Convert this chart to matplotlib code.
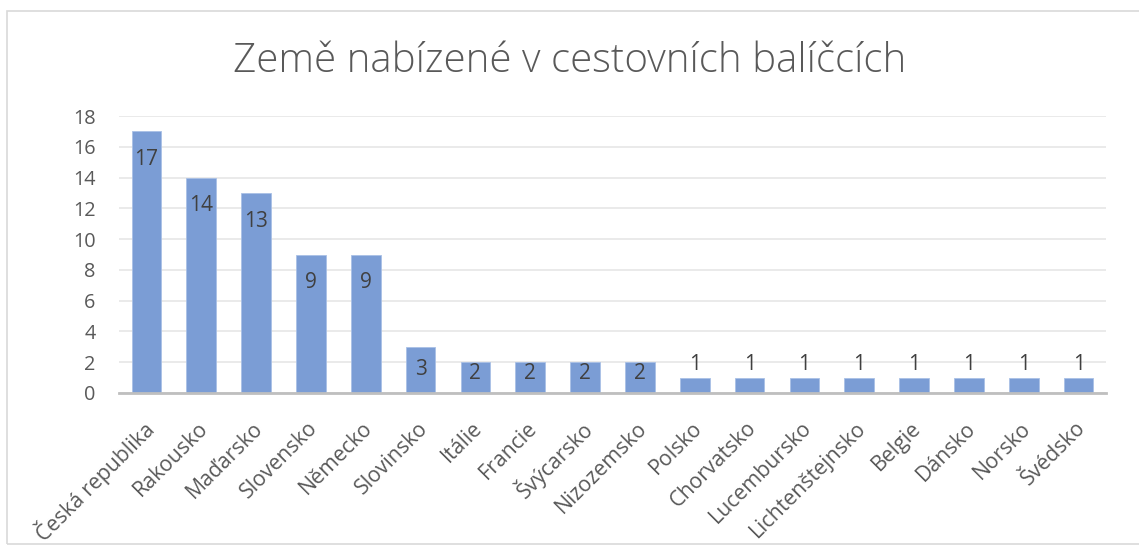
import matplotlib.pyplot as plt
from matplotlib.patches import Rectangle
from matplotlib.transforms import ScaledTranslation

# Data
zeme = ['Česká republika', 'Rakousko', 'Maďarsko', 'Slovensko', 'Německo', 'Slovinsko',
        'Itálie', 'Francie', 'Švýcarsko', 'Nizozemsko', 'Polsko', 'Chorvatsko',
        'Lucembursko', 'Lichtenštejnsko', 'Belgie', 'Dánsko', 'Norsko', 'Švédsko']
pocet = [17, 14, 13, 9, 9, 3, 2, 2, 2, 2, 1, 1, 1, 1, 1, 1, 1, 1]
y_ticks = [0, 2, 4, 6, 8, 10, 12, 14, 16, 18]

plt.rcParams['font.family'] = ['Open Sans', 'DejaVu Sans']
text_color = '#595959'

fig = plt.figure(figsize=(11.39, 5.55), dpi=100)
fig.patches.append(Rectangle((7 / 1139, 0.02), 1.0, 0.98 - 11 / 555, transform=fig.transFigure,
                             fill=False, edgecolor='#d9d9d9', linewidth=1.2))

ax = fig.add_axes([119 / 1139, 1 - 393 / 555, (1106 - 119) / 1139, (393 - 116) / 555])
x = range(len(zeme))
ax.bar(x, pocet, width=0.54, color='#7b9dd5', edgecolor='#a9c0e6', linewidth=0.6, zorder=3)

# popisky hodnot: uvnitř u konce sloupce, u malých sloupců výš / nad sloupcem
for i, v in enumerate(pocet):
    if v >= 9:
        ax.text(i, v - 1.15, str(v), ha='center', va='top', fontsize=15, color='#404040', zorder=4)
    elif v >= 3:
        ax.text(i, v - 0.8, str(v), ha='center', va='top', fontsize=15, color='#404040', zorder=4)
    elif v >= 2:
        ax.text(i, v - 0.05, str(v), ha='center', va='top', fontsize=15, color='#404040', zorder=4)
    else:
        ax.text(i, v + 0.15, str(v), ha='center', va='bottom', fontsize=15, color='#404040', zorder=4)

ax.set_xlim(-0.5, len(zeme) - 0.5)
ax.set_ylim(0, 18)
ax.set_yticks(y_ticks)
ax.set_xticks(list(x))
ax.set_xticklabels(zeme, rotation=45, ha='right', va='center', rotation_mode='anchor')
ax.tick_params(axis='y', length=0, labelsize=14.3, labelcolor=text_color, pad=17)
ax.tick_params(axis='x', length=0, labelsize=15.3, labelcolor=text_color, pad=23)
for lab in ax.get_xticklabels():
    lab.set_transform(lab.get_transform() + ScaledTranslation(0.04, 0, fig.dpi_scale_trans))
ax.grid(axis='y', color='#e6e6e6', linewidth=1.2, zorder=0)
for s in ['top', 'right', 'left']:
    ax.spines[s].set_visible(False)
ax.spines['bottom'].set_color('#bfbfbf')
ax.spines['bottom'].set_linewidth(2)
ax.spines['bottom'].set_zorder(5)

fig.text(0.5, 1 - 61 / 555, 'Země nabízené v cestovních balíčcích', ha='center', va='center',
         fontsize=29, fontweight='light', color=text_color)

fig.savefig('out.png', dpi=100)
